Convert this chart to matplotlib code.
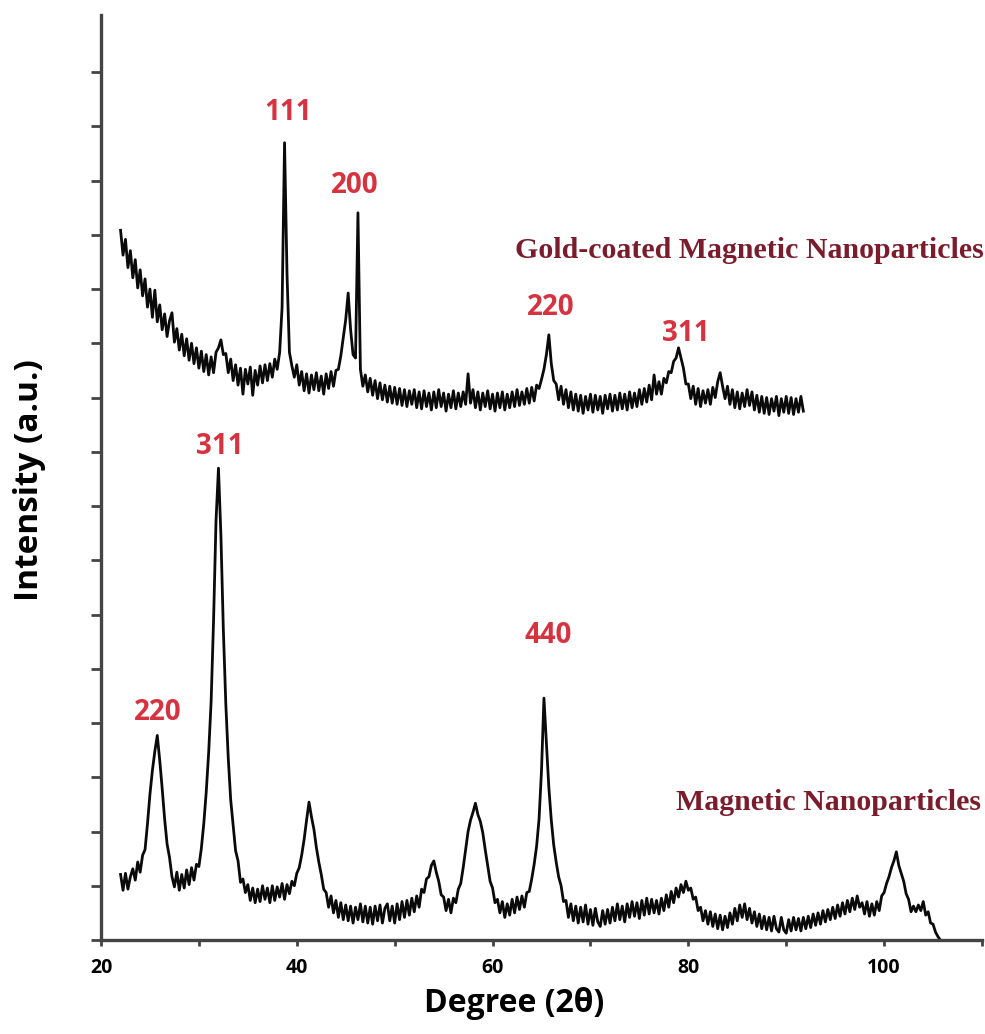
import matplotlib.pyplot as plt
import numpy as np

# XRD step scan, 0.25 deg per step
STEP = 0.25
two_theta_mnp = np.arange(22.0, 105.75 + STEP / 2, STEP)
two_theta_gold = np.arange(22.0, 91.75 + STEP / 2, STEP)

# magnetic nanoparticles (lower pattern), a.u.
intensity_mnp = [
    116, 88, 118, 90, 112, 126, 106, 138, 120, 150, 160, 206, 258, 300, 334, 362, 318, 268, 214, 170,   # 22-26.75
    146, 112, 94, 120, 88, 116, 92, 124, 98, 128, 106, 134, 130, 162, 206, 262, 332, 422, 566, 742,     # 27-31.75
    835, 716, 548, 418, 322, 248, 202, 158, 140, 102, 108, 84, 98, 70, 92, 66, 90, 68, 96, 72,          # 32-36.75
    92, 66, 96, 70, 94, 76, 100, 72, 98, 82, 104, 96, 118, 128, 150, 178, 212, 244, 218, 196,           # 37-41.75
    164, 138, 116, 90, 84, 58, 78, 48, 70, 40, 66, 36, 62, 34, 60, 30, 58, 36, 64, 32,                  # 42-46.75
    60, 30, 58, 28, 60, 34, 62, 30, 56, 64, 34, 60, 30, 64, 36, 68, 40, 70, 44, 74,                     # 47-51.75
    50, 78, 58, 90, 84, 108, 112, 132, 140, 120, 104, 80, 76, 52, 72, 48, 74, 66, 90, 100,              # 52-56.75
    128, 160, 192, 212, 226, 242, 222, 210, 190, 160, 132, 104, 92, 66, 72, 48, 68, 40, 64, 44,         # 57-61.75
    72, 48, 76, 54, 78, 58, 84, 86, 108, 134, 166, 214, 300, 428, 350, 270, 212, 168, 138, 112,         # 62-66.75
    96, 68, 70, 40, 64, 34, 60, 30, 58, 32, 62, 28, 54, 26, 56, 32, 24, 52, 28, 54,                     # 67-71.75
    30, 58, 34, 64, 36, 60, 32, 64, 40, 68, 42, 66, 38, 70, 44, 74, 46, 72, 48, 70,                     # 72-76.75
    46, 74, 52, 80, 58, 86, 66, 92, 76, 98, 84, 104, 88, 92, 72, 76, 52, 58, 34, 52,                    # 77-81.75
    28, 50, 24, 46, 20, 44, 18, 42, 22, 48, 28, 56, 34, 62, 40, 64, 36, 56, 30, 50,                     # 82-86.75
    24, 46, 20, 42, 18, 40, 16, 42, 20, 14, 40, 18, 12, 36, 16, 40, 18, 38, 16, 40,                     # 87-91.75
    20, 42, 22, 46, 26, 48, 28, 52, 32, 54, 36, 58, 38, 62, 42, 66, 46, 70, 50, 74,                     # 92-96.75
    54, 78, 58, 66, 46, 68, 42, 64, 44, 68, 52, 78, 84, 100, 112, 128, 140, 156, 132, 118,              # 97-101.75
    104, 82, 72, 50, 60, 50, 62, 52, 68, 44, 50, 30, 28, 14, 6, 0,                                      # 102-105.75
]

# gold-coated magnetic nanoparticles (upper pattern), a.u.
intensity_gold = [
    1256, 1212, 1240, 1190, 1220, 1172, 1204, 1154, 1186, 1140, 1170, 1120, 1152, 1102, 1150, 1094, 1124, 1080, 1108, 1068,  # 22-26.75
    1096, 1110, 1058, 1082, 1044, 1072, 1034, 1064, 1026, 1056, 1020, 1048, 1012, 1042, 1006, 1036, 1000, 1032, 1004, 1040,  # 27-31.75
    1048, 1062, 1036, 1038, 1004, 1028, 990, 1018, 982, 1012, 966, 1010, 984, 1014, 964, 1008, 982, 1016, 986, 1018,         # 32-36.75
    990, 1020, 996, 1028, 1010, 1040, 1120, 1411, 1180, 1040, 1016, 996, 1018, 982, 1006, 972, 1002, 968, 1000, 974,         # 37-41.75
    1004, 972, 998, 966, 1002, 976, 1006, 980, 1008, 1010, 1034, 1066, 1098, 1145, 1080, 1036, 1030, 1287, 1010, 980,        # 42-46.75
    1000, 970, 994, 964, 990, 958, 986, 956, 982, 952, 980, 950, 978, 948, 976, 946, 974, 944, 972, 948,                     # 47-51.75
    974, 942, 970, 940, 972, 944, 968, 938, 970, 942, 974, 944, 968, 936, 966, 942, 972, 940, 968, 944,                      # 52-56.75
    970, 948, 1002, 950, 974, 942, 970, 938, 968, 944, 972, 940, 966, 936, 968, 942, 970, 938, 966, 942,                     # 57-61.75
    970, 944, 974, 946, 970, 948, 976, 950, 978, 954, 982, 976, 992, 1010, 1036, 1071, 1020, 990, 984, 956,                  # 62-66.75
    980, 948, 974, 942, 970, 938, 966, 936, 964, 932, 962, 938, 966, 934, 964, 938, 962, 932, 964, 940,                      # 67-71.75
    966, 936, 964, 938, 968, 940, 966, 938, 970, 942, 968, 944, 974, 948, 976, 952, 982, 956, 1000, 966,                     # 72-76.75
    988, 966, 994, 986, 1006, 1004, 1024, 1030, 1048, 1030, 1012, 984, 984, 958, 980, 948, 976, 944, 972, 950,               # 77-81.75
    974, 948, 978, 960, 988, 1004, 980, 958, 980, 948, 974, 942, 970, 940, 968, 944, 974, 946, 970, 938,                     # 82-86.75
    964, 934, 962, 932, 960, 930, 958, 936, 962, 928, 958, 934, 962, 932, 960, 930, 958, 934, 962, 936,                      # 87-91.75
]

x_ticks = [20, 40, 60, 80, 100]

RED = '#d6323f'
WINE = '#7b1c2c'
AXIS = '#444444'

fig = plt.figure(figsize=(9.85, 10.34), dpi=100)
ax = fig.add_axes([101 / 985, 1 - 940 / 1034, 881 / 985, 925 / 1034])

ax.plot(two_theta_mnp, intensity_mnp, color='#0a0a0a', lw=2.0)
ax.plot(two_theta_gold, intensity_gold, color='#0a0a0a', lw=2.0)

ax.set_xlim(20, 110)
ax.set_ylim(0, 1637)

for side in ['top', 'right']:
    ax.spines[side].set_visible(False)
for side in ['left', 'bottom']:
    ax.spines[side].set_color(AXIS)
    ax.spines[side].set_linewidth(2.4)

ax.set_xticks(x_ticks)
ax.set_xticklabels([str(t) for t in x_ticks], fontfamily='Open Sans', fontweight='bold', fontsize=14)
ax.set_xticks([30, 50, 70, 90, 110], minor=True)
ax.tick_params(axis='x', which='both', direction='out', length=4, width=2, color=AXIS, pad=9)
ax.set_yticks(np.arange(0, 1540, 96))
ax.set_yticklabels([])
ax.tick_params(axis='y', direction='out', length=7, width=2, color=AXIS)

# peak indices
lbl = dict(color=RED, fontfamily='Open Sans', fontweight='bold', fontsize=20, ha='center', va='center')
for txt, (x, y) in zip(['111', '200', '220', '311'], [(39.1, 1464), (45.9, 1335), (65.9, 1119), (79.7, 1074)]):
    ax.text(x, y, txt, **lbl)
for txt, (x, y) in zip(['220', '311', '440'], [(25.8, 402), (32.1, 873), (65.7, 538)]):
    ax.text(x, y, txt, **lbl)

name = dict(color=WINE, fontfamily='Liberation Serif', fontweight='bold', fontsize=21.5, ha='left', va='center')
ax.text(62.3, 1221, 'Gold-coated Magnetic Nanoparticles', **name)
ax.text(78.7, 244, 'Magnetic Nanoparticles', **name)

fig.text(514 / 985, 1 - 1003 / 1034, 'Degree (2θ)', fontfamily='Open Sans', fontweight='bold',
         fontsize=23, ha='center', va='center')
fig.text(30 / 985, 1 - 480 / 1034, 'Intensity (a.u.)', fontfamily='Open Sans', fontweight='bold',
         fontsize=24, ha='center', va='center', rotation=90)

fig.savefig('out.png', dpi=100)
